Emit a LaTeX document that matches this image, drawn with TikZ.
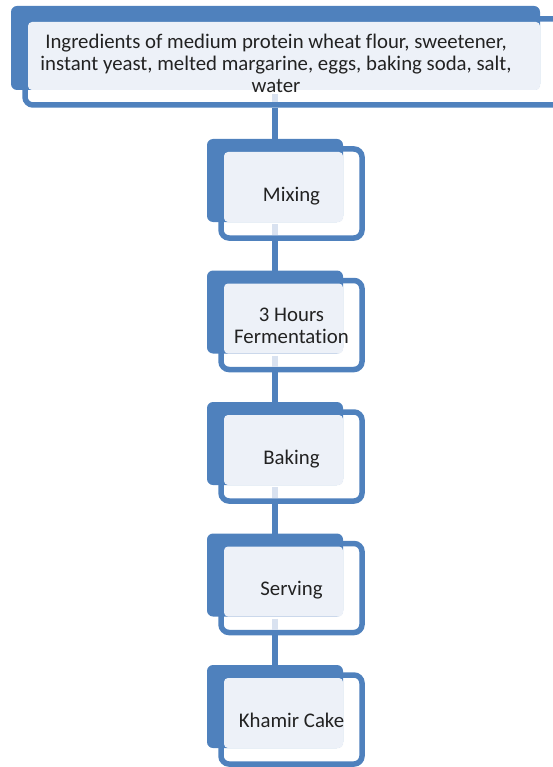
\documentclass[tikz,border=0pt]{standalone}
\usepackage{fontspec}
\setmainfont{Carlito}[Ligatures={NoCommon}]
\definecolor{sablue}{HTML}{4F81BD}
\definecolor{salight}{HTML}{EDF1F8}
\definecolor{sapale}{HTML}{D9E2F0}
\definecolor{satext}{HTML}{222222}
\tikzset{
  backbox/.style={rectangle, fill=sablue, rounded corners=6pt, inner sep=0pt, outer sep=0pt},
  framebox/.style={rectangle, draw=sablue, fill=white, line width=5.5pt, rounded corners=8pt, inner sep=0pt},
  facebox/.style={rectangle, fill=salight, rounded corners=4pt, inner sep=0pt, outer sep=0pt},
  label/.style={text=satext, font=\fontsize{20.8}{22}\selectfont, align=center, inner sep=0pt},
  conn/.style={draw=sablue, line width=5.5pt},
  paleconn/.style={draw=sapale, line width=5.5pt},
}
\begin{document}
\begin{tikzpicture}[x=1pt,y=-1pt]
\useasboundingbox (0,0) rectangle (553,767);
\clip (0,0) rectangle (553,767);
% ---------- top box ----------
\node[framebox, minimum width=545pt, minimum height=86pt] (out0) at (297.5,62) {};
\node[backbox, minimum width=529pt, minimum height=84pt] (back0) at (275.5,48) {};
\node[facebox, minimum width=512pt, minimum height=68pt] (face0) at (284,56) {};
% ---------- small boxes ----------
\foreach \i/\T in {1/139,2/270.5,3/402,4/533.5,5/665}{
  \node[framebox, minimum width=141pt, minimum height=89pt] (out\i) at (291.5,\T+54.5) {};
  \node[backbox, minimum width=136pt, minimum height=83pt] (back\i) at (275,\T+41.5) {};
  \node[facebox, minimum width=119pt, minimum height=70pt] (face\i) at (283.5,\T+48) {};
}
% ---------- pale segments inside frames ----------
\draw[paleconn] ([yshift=-4pt]back1.north |- face0.south) -- ([yshift=5.5pt]back1.north |- out0.south);
\foreach \i in {1,2,3,4}{
  \draw[paleconn] ([yshift=-2pt]back\i.south) -- ([yshift=5.5pt]back\i.south |- out\i.south);
}
% ---------- texts ----------
\node[label] (txt0) at (276,63.5) {Ingredients of medium protein wheat flour, sweetener,\\instant yeast, melted margarine, eggs, baking soda, salt,\\water};
\node[label] (txt1) at (291.5,139+57.5) {Mixing};
\node[label] (txt2) at (291.5,270.5+55) {3 Hours\\Fermentation};
\node[label] (txt3) at (291.5,402+57.5) {Baking};
\node[label] (txt4) at (291.5,533.5+57) {Serving};
\node[label] (txt5) at (291.5,665+55.5) {Khamir Cake};
% ---------- connectors ----------
\draw[conn] (back1.north |- out0.south) -- (back1.north);
\draw[conn] (back1.south |- out1.south) -- (back2.north);
\draw[conn] (back2.south |- out2.south) -- (back3.north);
\draw[conn] (back3.south |- out3.south) -- (back4.north);
\draw[conn] (back4.south |- out4.south) -- (back5.north);
\end{tikzpicture}
\end{document}
